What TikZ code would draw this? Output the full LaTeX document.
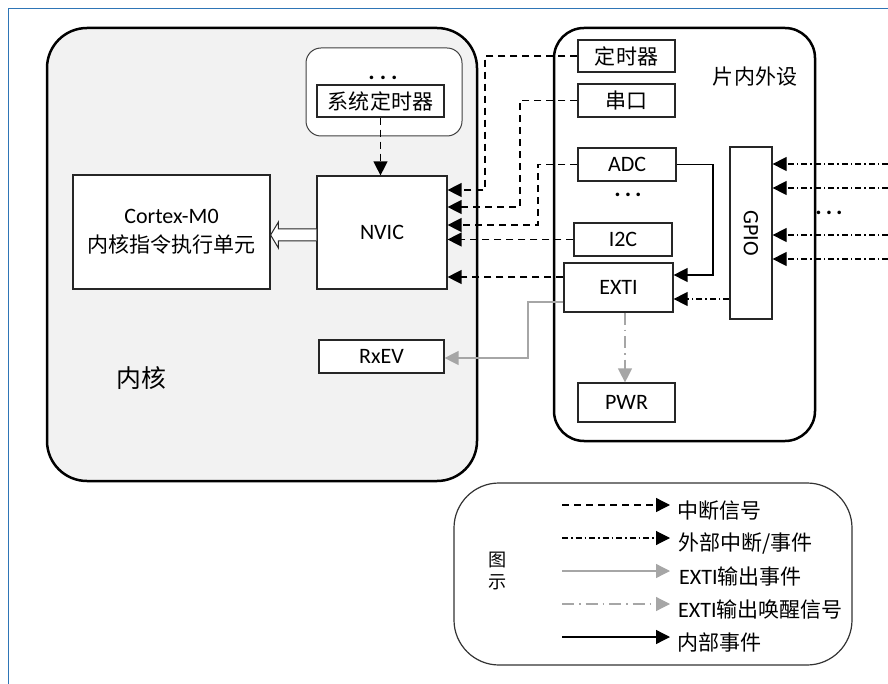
\documentclass[tikz,border=0pt]{standalone}
\usepackage{fontspec}
\setmainfont{Carlito}
\newfontfamily\cjk[Scale=0.955]{Noto Sans CJK SC}
\usepackage{tikz}
\usetikzlibrary{arrows.meta}
\usetikzlibrary{calc}
\usetikzlibrary{positioning}

\definecolor{frameblue}{RGB}{46,117,182}
\definecolor{panelgray}{RGB}{242,242,242}
\definecolor{evgray}{RGB}{166,166,166}

\tikzset{
    blk/.style={draw=black!85, line width=1.2pt, fill=white, inner sep=0pt},
    group/.style={draw=black, line width=2.5pt},
    irq/.style={line width=1.3pt, dash pattern=on 7pt off 5pt, -{Triangle[length=14pt,width=14pt]}},
    extsig/.style={line width=1.1pt, dash pattern=on 6pt off 3pt on 1.5pt off 3pt, -{Triangle[length=14pt,width=14pt]}},
    evout/.style={evgray, line width=1.3pt, -{Triangle[length=14pt,width=14pt]}},
    wakeout/.style={evgray, line width=1.2pt, dash pattern=on 12pt off 5pt on 1.5pt off 5pt, -{Triangle[length=14pt,width=14pt]}},
    intev/.style={line width=1.3pt, -{Triangle[length=14pt,width=14pt]}},
    dots/.style={font=\fontsize{24}{24}\selectfont\bfseries, anchor=base}
}

\begin{document}
\begin{tikzpicture}[x=1pt, y=-1pt, font=\fontsize{22}{29}\selectfont]
    \useasboundingbox (0,0) rectangle (888,684);
    \draw[frameblue, line width=1pt] (8,684) -- (8,9) -- (888,9);

    % core and peripherals
    \draw[group, fill=panelgray, rounded corners=40] (47,28) rectangle (477,481);
    \draw[draw=black!75, line width=1pt, fill=white, rounded corners=15] (306,48) rectangle (462,136);
    \draw[group, fill=white, rounded corners=30] (554,28) rectangle (815,441);

    \node[dots] (stdots) at (383,80) {.\hspace{5pt}.\hspace{5pt}.};
    \node[blk, minimum width=127, minimum height=32] (systick) at (380.5,101) {\cjk 系统定时器};
    \node[blk, minimum width=130, minimum height=113] (nvic) at (382,232.5) {NVIC};
    \node[blk, minimum width=197, minimum height=114, align=center] (cpu) at (171.5,232)
        {Cortex-M0\\{\cjk 内核指令执行单元}};
    \node[blk, minimum width=125, minimum height=33] (rxev) at (381.5,356.5) {RxEV};
    \node[font=\cjk\fontsize{26}{26}\selectfont] (corelbl) at (141,378) {内核};

    \node (perlbl) at (755,77) {\cjk 片内外设};
    \node[blk, minimum width=97, minimum height=32] (tim) at (626.5,56) {\cjk 定时器};
    \node[blk, minimum width=97, minimum height=33] (uart) at (626.5,100.5) {\cjk 串口};
    \node[blk, minimum width=98, minimum height=33] (adc) at (627,164.5) {ADC};
    \node[dots] (pdots) at (628,197) {.\hspace{4pt}.\hspace{4pt}.};
    \node[blk, minimum width=98, minimum height=33] (iic) at (623,239.5) {I2C};
    \node[blk, minimum width=109, minimum height=49] (exti) at (618.5,287.5) {EXTI};
    \node[blk, minimum width=42, minimum height=172] (gpio) at (751,233) {\rotatebox{-90}{GPIO}};
    \node[blk, minimum width=97, minimum height=39] (pwr) at (626.5,402.5) {PWR};
    \node[dots] (idots) at (829,215) {.\hspace{4pt}.\hspace{4pt}.};

    % hollow arrow NVIC -> core
    \draw[line width=1pt, draw=black!85, fill=white] ($(nvic.west)+(0,-3.5)$) -- ++(-38,0) -- ++(0,-7)
        -- ($(cpu.east)+(0,3)$) -- ($(nvic.west)+(-38,15.5)$) -- ++(0,-7) -- ($(nvic.west)+(0,8.5)$);

    % interrupt lines
    \draw[irq] (systick.south) -- (systick.south |- nvic.north);
    \draw[irq] (tim.west) -| (485,190) -- (nvic.east |- 0,190);
    \draw[irq] (uart.west) -| (520,207) -- (nvic.east |- 0,207);
    \draw[irq] (adc.west) -| (538,225) -- (nvic.east |- 0,225);
    \draw[irq] (iic.west) -- (nvic.east |- iic.west);
    \draw[irq] (exti.west |- 0,277) -- (nvic.east |- 0,277);

    % events
    \draw[intev] (adc.east) -| (713,275) -- (exti.east |- 0,275);
    \draw[extsig] (gpio.west |- 0,299) -- (exti.east |- 0,299);
    \foreach \y [count=\i] in {164,188,235,259}{
        \coordinate (pin\i) at (888,\y);
        \draw[extsig] (pin\i) -- (gpio.east |- pin\i);
    }
    \draw[evout] (exti.west |- 0,302) -| (528,358) -- (rxev.east |- 0,358);
    \draw[wakeout] (exti.south -| 625,0) -- (pwr.north -| 625,0);

    % legend
    \draw[draw=black!80, line width=1.2pt, rounded corners=45] (454,483) rectangle (852,665);
    \node[font=\cjk\fontsize{19}{22}\selectfont, align=center] (key) at (498,571) {图\\示};
    \coordinate (ls1) at (562,505); \coordinate (le1) at (670,505);
    \coordinate (ls2) at (562,538); \coordinate (le2) at (670,538);
    \coordinate (ls3) at (562,571); \coordinate (le3) at (670,571);
    \coordinate (ls4) at (562,604); \coordinate (le4) at (670,604);
    \coordinate (ls5) at (562,637); \coordinate (le5) at (670,637);
    \draw[irq] (ls1) -- (le1);
    \draw[extsig] (ls2) -- (le2);
    \draw[evout] (ls3) -- (le3);
    \draw[wakeout] (ls4) -- (le4);
    \draw[intev] (ls5) -- (le5);
    \node[anchor=west, inner sep=0pt] (lt1) at ($(le1)+(7,6)$) {\cjk 中断信号};
    \node[anchor=west, inner sep=0pt] (lt2) at ($(le2)+(8,6)$) {\cjk 外部中断/事件};
    \node[anchor=west, inner sep=0pt] (lt3) at ($(le3)+(9,6)$) {EXTI{\cjk 输出事件}};
    \node[anchor=west, inner sep=0pt] (lt4) at ($(le4)+(8,6)$) {EXTI{\cjk 输出唤醒信号}};
    \node[anchor=west, inner sep=0pt] (lt5) at ($(le5)+(7,6)$) {\cjk 内部事件};
\end{tikzpicture}
\end{document}
